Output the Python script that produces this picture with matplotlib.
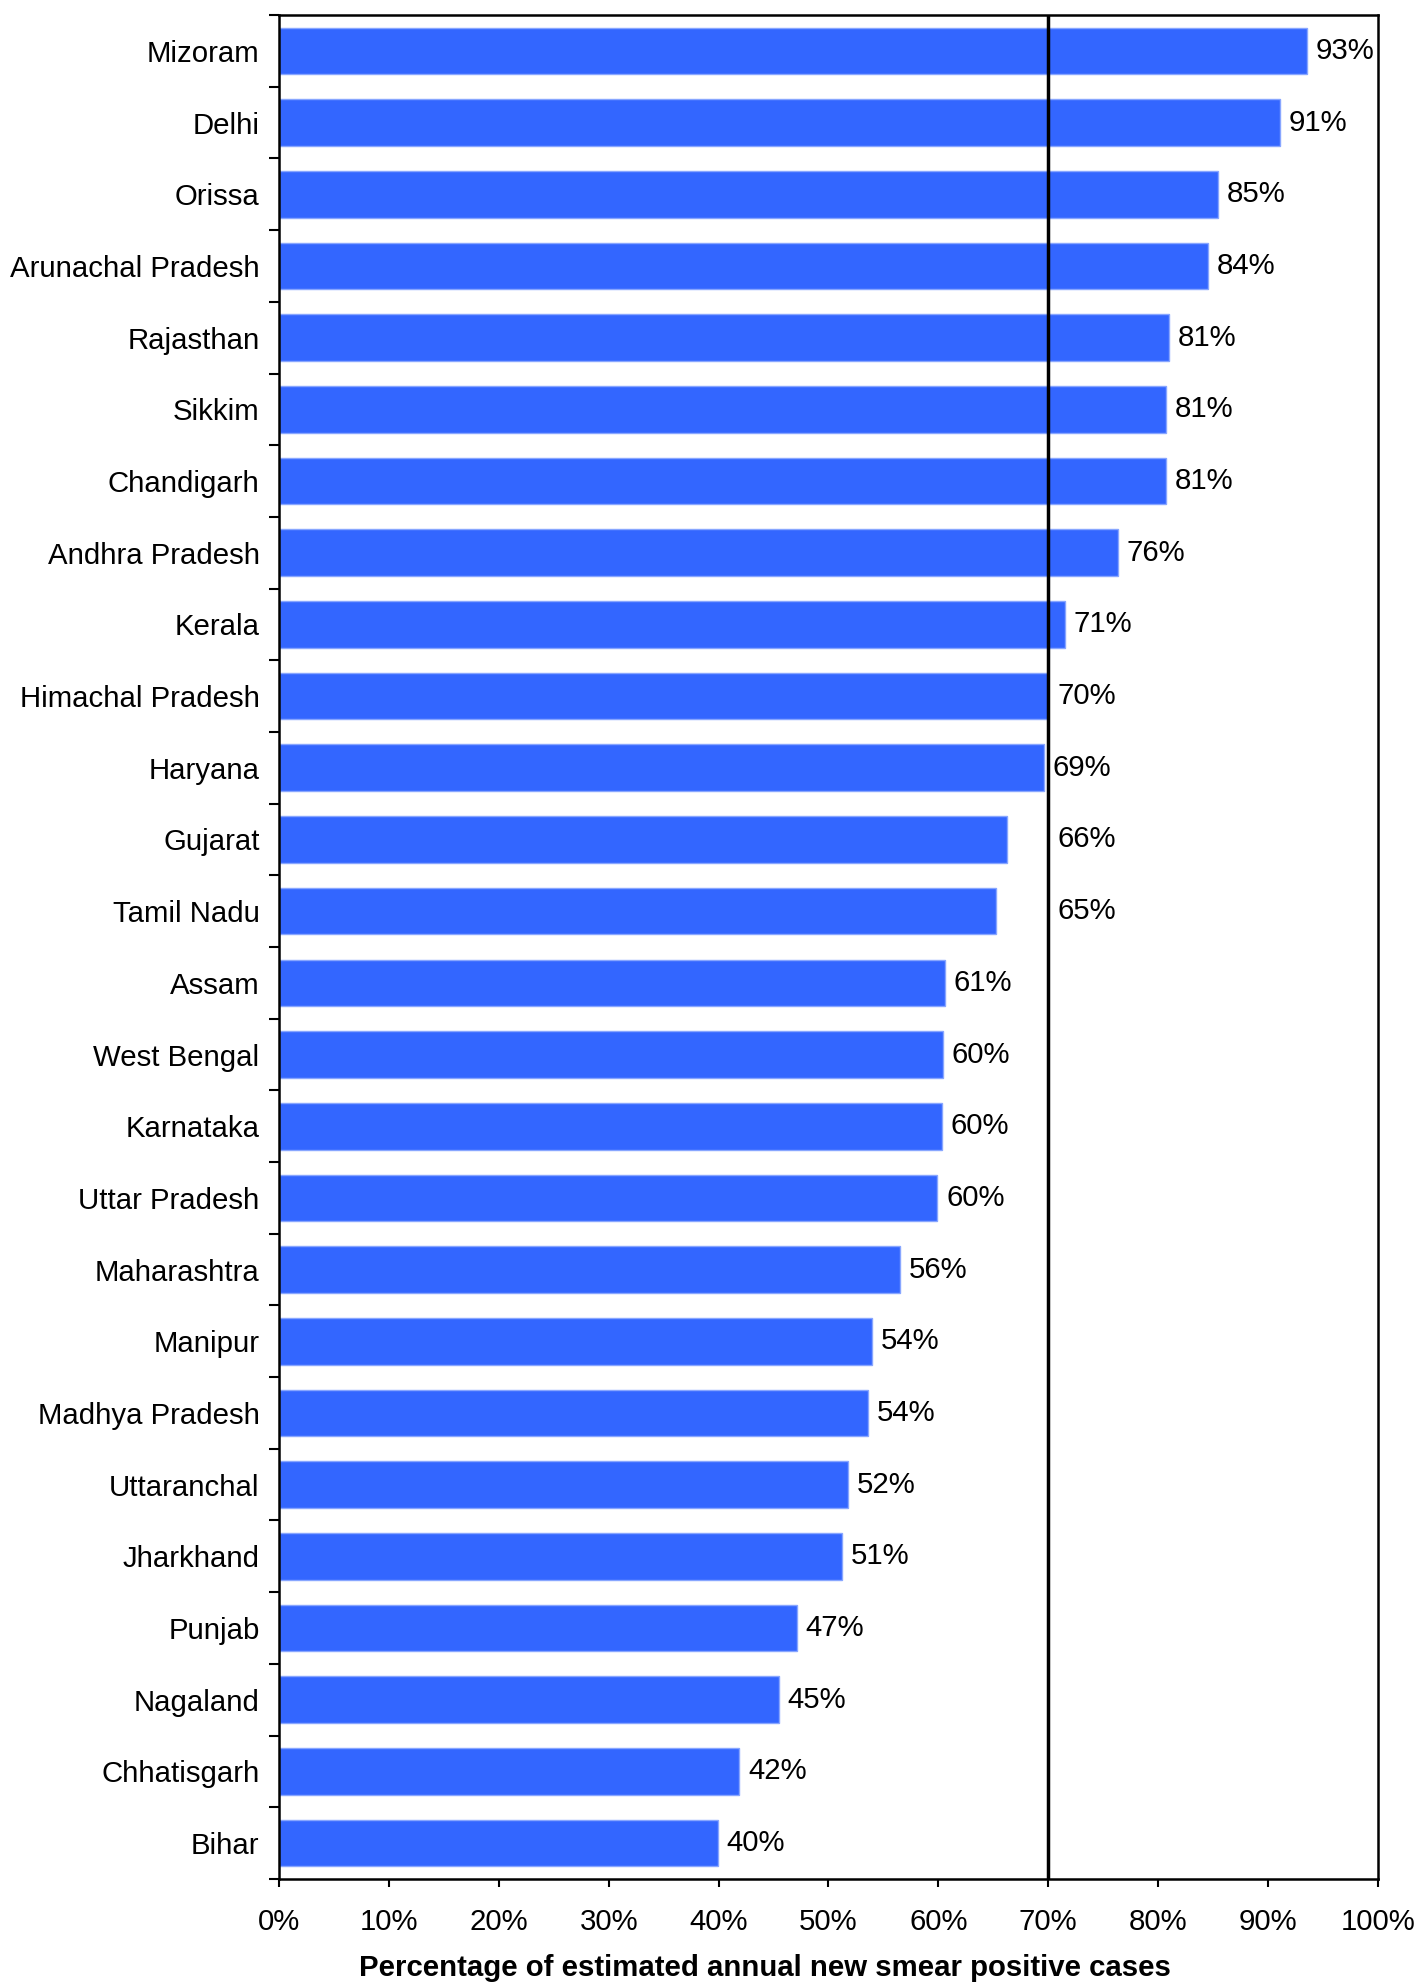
import matplotlib.pyplot as plt
from matplotlib.ticker import MultipleLocator, PercentFormatter

# state-wise detection of new smear positive cases (percent of estimated)
states = ["Mizoram", "Delhi", "Orissa", "Arunachal Pradesh", "Rajasthan", "Sikkim",
          "Chandigarh", "Andhra Pradesh", "Kerala", "Himachal Pradesh", "Haryana",
          "Gujarat", "Tamil Nadu", "Assam", "West Bengal", "Karnataka", "Uttar Pradesh",
          "Maharashtra", "Manipur", "Madhya Pradesh", "Uttaranchal", "Jharkhand",
          "Punjab", "Nagaland", "Chhatisgarh", "Bihar"]
values = [93.5, 91.1, 85.4, 84.5, 81.0, 80.7, 80.7, 76.3, 71.5, 70.0, 69.6, 66.2,
          65.2, 60.6, 60.4, 60.3, 59.9, 56.5, 54.0, 53.6, 51.8, 51.2, 47.1, 45.5,
          41.9, 39.9]
# printed labels as shown on the chart
labels = [93, 91, 85, 84, 81, 81, 81, 76, 71, 70, 69, 66, 65, 61, 60, 60, 60,
          56, 54, 54, 52, 51, 47, 45, 42, 40]
target = 70

plt.rcParams['font.family'] = ['Liberation Sans', 'DejaVu Sans']
FS = 21.2

fig = plt.figure(figsize=(14.2, 19.82), dpi=100)
ax = fig.add_axes([0.1965, 0.052, 0.7739, 0.9404])

ypos = list(range(len(states)))
ax.barh(ypos, values, height=0.65, color='#3366FF', edgecolor='#88A6FF', linewidth=1)

# target line at 70%
ax.axvline(target, color='black', linewidth=2.5, zorder=3)

# value labels, pushed past the target line when they would sit on it
label_w = 5.4
pad = 0.8
for y, v, lab in zip(ypos, values, labels):
    x = v + pad
    if x < target < x + label_w:
        x = target + pad
    ax.text(x, y, f"{lab}%", va='center', ha='left', fontsize=FS)

ax.set_xlim(0, 100)
ax.set_ylim(len(states) - 0.5, -0.5)
ax.xaxis.set_major_locator(MultipleLocator(10))
ax.xaxis.set_major_formatter(PercentFormatter(decimals=0))

ax.set_yticks(ypos)
ax.set_yticklabels(states)
ax.set_yticks([i - 0.5 for i in range(len(states) + 1)], minor=True)
ax.tick_params(axis='y', which='major', length=0, pad=14, labelsize=FS)
ax.tick_params(axis='y', which='minor', length=7, width=1.5, direction='out')
ax.tick_params(axis='x', length=6, width=1.5, direction='out', pad=15, labelsize=FS)

for s in ax.spines.values():
    s.set_linewidth(1.8)

ax.set_xlabel("Percentage of estimated annual new smear positive cases",
              fontsize=FS, fontweight='bold', labelpad=13)
ax.xaxis.label.set_x(0.442)

fig.savefig("out.png", dpi=100)
